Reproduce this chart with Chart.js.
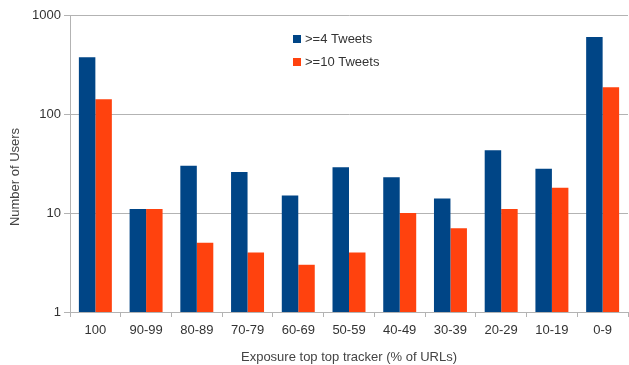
<!DOCTYPE html>
<html>
<head>
<meta charset="utf-8">
<script src="https://cdn.jsdelivr.net/npm/chart.js@4"></script>
<style>
  html, body { margin: 0; padding: 0; background: #fff; }
  #wrap { width: 629px; height: 365px; }
</style>
</head>
<body>
<div id="wrap"><canvas id="chart" width="629" height="365"></canvas></div>
<script>
const categories = ['100', '90-99', '80-89', '70-79', '60-69', '50-59', '40-49', '30-39', '20-29', '10-19', '0-9'];
const tweets4 = [374, 11, 30, 26, 15, 29, 23, 14, 43, 28, 600];
const tweets10 = [141, 11, 5, 4, 3, 4, 10, 7, 11, 18, 186];
const yTicks = [1, 10, 100, 1000];
const seriesNames = ['>=4 Tweets', '>=10 Tweets'];
const seriesColors = ['#004586', '#ff420e'];
const yTitle = 'Number of Users';

const FONT = 'Liberation Sans, Arial, sans-serif';
const GRID = '#b3b3b3';
const TEXT = '#333333';

// legend inside the plot and the y title sitting a bit low, as in the original
const extras = {
  id: 'extras',
  afterDraw(chart) {
    const ctx = chart.ctx;
    ctx.save();
    ctx.font = '13px ' + FONT;
    ctx.textBaseline = 'middle';
    chart.data.datasets.forEach((ds, i) => {
      const y = 39 + i * 23;
      ctx.fillStyle = ds.backgroundColor;
      ctx.fillRect(293, y - 4, 8, 8);
      ctx.fillStyle = TEXT;
      ctx.fillText(ds.label, 305, y);
    });
    ctx.translate(15, 177);
    ctx.rotate(-Math.PI / 2);
    ctx.textAlign = 'center';
    ctx.fillStyle = '#444444';
    ctx.fillText(yTitle, 0, 0);
    ctx.restore();
  }
};

new Chart(document.getElementById('chart'), {
  type: 'bar',
  data: {
    labels: categories,
    datasets: [
      { label: seriesNames[0], data: tweets4, backgroundColor: seriesColors[0] },
      { label: seriesNames[1], data: tweets10, backgroundColor: seriesColors[1] }
    ]
  },
  options: {
    responsive: false,
    animation: false,
    layout: { padding: { top: 15, right: 1, left: 0, bottom: 0 } },
    datasets: { bar: { categoryPercentage: 0.65, barPercentage: 1.0 } },
    plugins: { legend: { display: false }, tooltip: { enabled: false } },
    scales: {
      x: {
        grid: { drawOnChartArea: false, drawTicks: true, tickLength: 5, color: GRID, offset: true },
        border: { color: GRID },
        ticks: { color: TEXT, font: { family: FONT, size: 13 }, padding: 6, maxRotation: 0, autoSkip: false },
        title: { display: true, text: 'Exposure top top tracker (% of URLs)', color: '#444444', font: { family: FONT, size: 13 }, padding: { top: 3, bottom: 0 } },
        afterFit(scale) { scale.height = 53; }
      },
      y: {
        type: 'logarithmic',
        min: 1,
        max: 1000,
        afterBuildTicks(scale) { scale.ticks = yTicks.map(v => ({ value: v })); },
        grid: { color: GRID, tickLength: 6 },
        border: { color: GRID },
        ticks: { color: TEXT, font: { family: FONT, size: 13 }, padding: 3, callback: v => String(v) },
        title: { display: false },
        afterFit(scale) { scale.width = 70; }
      }
    }
  },
  plugins: [extras]
});
</script>
</body>
</html>
